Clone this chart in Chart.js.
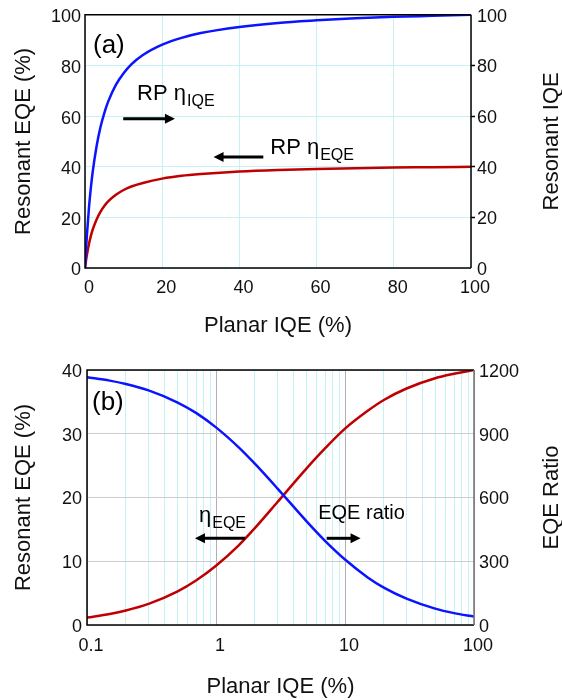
<!DOCTYPE html>
<html>
<head>
<meta charset="utf-8">
<script src="https://cdn.jsdelivr.net/npm/chart.js@4.4.1/dist/chart.umd.min.js"></script>
<style>
  html, body { margin: 0; padding: 0; background: #fff; }
  .panel { position: absolute; left: 0; width: 562px; }
  #top { top: 0; height: 345px; }
  #bottom { top: 345px; height: 355px; }
</style>
</head>
<body>
<div class="panel" id="top"><canvas id="chartA"></canvas></div>
<div class="panel" id="bottom"><canvas id="chartB"></canvas></div>
<script>
const FONT = "'Liberation Sans', Arial, sans-serif";
const BLUE = "#0a14ff";
const RED = "#c00000";
const CYAN = "#c6f2f6";
const GRAY = "#b0b0b0";

// (a) linear planar IQE axis
const planarIqeA = [0, 0.25, 0.5, 1, 1.5, 2, 3, 4, 5, 6, 8, 10, 12, 15, 20, 25, 30, 40, 50, 60, 70, 80, 90, 100];
const resonantIqeA = [0, 7.0, 13.1, 23.3, 31.4, 38.0, 48.1, 55.6, 61.2, 65.7, 72.3, 76.9, 80.4, 84.1, 88.2, 90.9, 92.8, 95.2, 96.8, 97.8, 98.6, 99.2, 99.6, 100];
const resonantEqeA = [0, 2.8, 5.2, 9.3, 12.6, 15.2, 19.2, 22.2, 24.5, 26.3, 28.9, 30.8, 32.2, 33.6, 35.3, 36.4, 37.1, 38.1, 38.7, 39.1, 39.4, 39.7, 39.8, 40.0];

// (b) log planar IQE axis
const planarIqeB = [0.1, 0.15, 0.2, 0.3, 0.5, 0.7, 1, 1.5, 2, 3, 5, 7, 10, 15, 20, 30, 50, 70, 100];
const resonantEqeB = [1.17, 1.73, 2.27, 3.31, 5.24, 6.98, 9.3, 12.5, 15.2, 19.3, 24.5, 27.7, 30.8, 33.6, 35.3, 37.1, 38.7, 39.4, 40.0];
const eqeRatioB = [1166, 1150, 1134, 1104, 1048, 998, 930, 836, 759, 642, 490, 396, 308, 224, 176, 124, 77, 56, 40];

// log axis tick positions; only decades get a label
const logTicksB = [0.1, 0.2, 0.3, 0.4, 0.5, 0.6, 0.7, 0.8, 0.9, 1, 2, 3, 4, 5, 6, 7, 8, 9, 10, 20, 30, 40, 50, 60, 70, 80, 90, 100];
const logLabelsB = [0.1, 1, 10, 100];

Chart.defaults.font.family = FONT;
Chart.defaults.font.size = 18;
Chart.defaults.color = "#111";

const toPoints = (xs, ys) => xs.map((x, i) => ({ x, y: ys[i] }));

// text, arrows, axis titles and the box around the plot
const decorations = {
  id: "decorations",
  afterDraw(chart, args, opts) {
    const { ctx, chartArea: area, scales } = chart;
    const x = scales.x, y = scales.y;
    ctx.save();

    // frame
    ctx.lineWidth = 1.5;
    ctx.strokeStyle = "#000";
    ctx.beginPath();
    ctx.moveTo(area.right, area.top);
    ctx.lineTo(area.left, area.top);
    ctx.lineTo(area.left, area.bottom);
    ctx.lineTo(area.right, area.bottom);
    ctx.stroke();
    ctx.strokeStyle = opts.rightColor || "#000";
    ctx.beginPath();
    ctx.moveTo(area.right, area.top);
    ctx.lineTo(area.right, area.bottom);
    ctx.stroke();

    // panel tag
    ctx.fillStyle = "#000";
    ctx.font = `26px ${FONT}`;
    ctx.textAlign = "left";
    ctx.textBaseline = "alphabetic";
    ctx.fillText(opts.tag.text, area.left + opts.tag.dx, area.top + opts.tag.dy);

    // labels with subscripts
    (opts.labels || []).forEach((l) => {
      let px = x.getPixelForValue(l.x);
      const py = y.getPixelForValue(l.y);
      ctx.font = `${l.size}px ${FONT}`;
      ctx.fillText(l.text, px, py);
      if (l.sub) {
        px += ctx.measureText(l.text).width + 1;
        ctx.font = `16px ${FONT}`;
        ctx.fillText(l.sub, px, py + 6);
      }
    });

    // arrows
    ctx.lineWidth = 3;
    (opts.arrows || []).forEach((a) => {
      const x0 = x.getPixelForValue(a.from);
      const x1 = x.getPixelForValue(a.to);
      const py = y.getPixelForValue(a.y);
      const dir = Math.sign(x1 - x0);
      ctx.strokeStyle = "#000";
      ctx.beginPath();
      ctx.moveTo(x0, py);
      ctx.lineTo(x1 - dir * 8, py);
      ctx.stroke();
      ctx.beginPath();
      ctx.moveTo(x1, py);
      ctx.lineTo(x1 - dir * 10, py - 5);
      ctx.lineTo(x1 - dir * 10, py + 5);
      ctx.closePath();
      ctx.fill();
    });

    // axis titles
    ctx.font = `22px ${FONT}`;
    ctx.fillStyle = "#111";
    ctx.textAlign = "center";
    ctx.textBaseline = "middle";
    const midY = (area.top + area.bottom) / 2;
    const vertical = (text, cx) => {
      ctx.save();
      ctx.translate(cx, midY);
      ctx.rotate(-Math.PI / 2);
      ctx.fillText(text, 0, 0);
      ctx.restore();
    };
    vertical(opts.titles.left, 24);
    vertical(opts.titles.right, 552);
    ctx.fillText(opts.titles.bottom, (area.left + area.right) / 2, opts.titles.bottomY);

    ctx.restore();
  },
};

const isEdge = (scale, v) => v === scale.min || v === scale.max;

new Chart(document.getElementById("chartA"), {
  type: "line",
  data: {
    datasets: [
      {
        label: "RP IQE",
        data: toPoints(planarIqeA, resonantIqeA),
        yAxisID: "y2",
        borderColor: BLUE,
        borderWidth: 2.5,
        pointRadius: 0,
        cubicInterpolationMode: "monotone",
      },
      {
        label: "RP EQE",
        data: toPoints(planarIqeA, resonantEqeA),
        yAxisID: "y",
        borderColor: RED,
        borderWidth: 2.5,
        pointRadius: 0,
        cubicInterpolationMode: "monotone",
      },
    ],
  },
  options: {
    responsive: true,
    maintainAspectRatio: false,
    animation: false,
    layout: { padding: { top: 12, left: 0, right: 0, bottom: 0 } },
    plugins: {
      legend: { display: false },
      tooltip: { enabled: false },
      decorations: {
        tag: { text: "(a)", dx: 8, dy: 38 },
        labels: [
          { text: "RP \u03b7", sub: "IQE", x: 13.5, y: 66.4, size: 22 },
          { text: "RP \u03b7", sub: "EQE", x: 48.0, y: 45.2, size: 22 },
        ],
        arrows: [
          { from: 9.9, to: 23.3, y: 58.9 },
          { from: 46.2, to: 33.3, y: 43.8 },
        ],
        titles: { left: "Resonant EQE (%)", right: "Resonant IQE", bottom: "Planar IQE (%)", bottomY: 326 },
      },
    },
    scales: {
      x: {
        type: "linear",
        min: 0,
        max: 100,
        grid: { color: CYAN, drawTicks: false },
        border: { display: false },
        ticks: { stepSize: 20, padding: 9, labelOffset: 4, maxRotation: 0 },
        afterFit: (s) => { s.height = 77; },
      },
      y: {
        position: "left",
        min: 0,
        max: 100,
        grid: { color: CYAN, drawTicks: false },
        border: { display: false },
        ticks: { stepSize: 20, padding: 4, labelOffset: 2.5 },
        afterFit: (s) => { s.width = 85; },
      },
      y2: {
        position: "right",
        min: 0,
        max: 100,
        grid: {
          drawOnChartArea: false,
          drawTicks: true,
          tickLength: 4,
          tickWidth: 1.5,
          tickColor: (c) => (c.tick && isEdge(c.scale, c.tick.value) ? "rgba(0,0,0,0)" : "#000"),
        },
        border: { display: false },
        ticks: { stepSize: 20, padding: 2, labelOffset: 2 },
        afterFit: (s) => { s.width = 91; },
      },
    },
  },
  plugins: [decorations],
});

new Chart(document.getElementById("chartB"), {
  type: "line",
  data: {
    datasets: [
      {
        label: "EQE ratio",
        data: toPoints(planarIqeB, eqeRatioB),
        yAxisID: "y2",
        borderColor: BLUE,
        borderWidth: 2.5,
        pointRadius: 0,
        cubicInterpolationMode: "monotone",
      },
      {
        label: "Resonant EQE",
        data: toPoints(planarIqeB, resonantEqeB),
        yAxisID: "y",
        borderColor: RED,
        borderWidth: 2.5,
        pointRadius: 0,
        cubicInterpolationMode: "monotone",
      },
    ],
  },
  options: {
    responsive: true,
    maintainAspectRatio: false,
    animation: false,
    layout: { padding: { top: 25, left: 0, right: 0, bottom: 0 } },
    plugins: {
      legend: { display: false },
      tooltip: { enabled: false },
      decorations: {
        rightColor: "#707070",
        tag: { text: "(b)", dx: 5, dy: 40 },
        labels: [
          { text: "\u03b7", sub: "EQE", x: 0.738, y: 16.2, size: 22 },
          { text: "EQE ratio", x: 6.2, y: 16.7, size: 20 },
        ],
        arrows: [
          { from: 1.68, to: 0.687, y: 13.6 },
          { from: 7.21, to: 13.2, y: 13.6 },
        ],
        titles: { left: "Resonant EQE (%)", right: "EQE Ratio", bottom: "Planar IQE (%)", bottomY: 342 },
      },
    },
    scales: {
      x: {
        type: "logarithmic",
        min: 0.1,
        max: 100,
        afterBuildTicks: (s) => { s.ticks = logTicksB.map((v) => ({ value: v })); },
        grid: {
          drawTicks: false,
          color: (c) => (c.tick && logLabelsB.includes(c.tick.value) ? GRAY : CYAN),
        },
        border: { display: false },
        ticks: {
          autoSkip: false,
          maxRotation: 0,
          padding: 10,
          labelOffset: 4,
          callback: (v) => (logLabelsB.includes(v) ? String(v) : ""),
        },
        afterFit: (s) => { s.height = 75; },
      },
      y: {
        position: "left",
        min: 0,
        max: 40,
        grid: { color: "#cccccc", drawTicks: false },
        border: { display: false },
        ticks: { stepSize: 10, padding: 5, labelOffset: 2 },
        afterFit: (s) => { s.width = 87; },
      },
      y2: {
        position: "right",
        min: 0,
        max: 1200,
        grid: { drawOnChartArea: false, drawTicks: false },
        border: { display: false },
        ticks: { stepSize: 300, padding: 5, labelOffset: 2, callback: (v) => String(v) },
        afterFit: (s) => { s.width = 88; },
      },
    },
  },
  plugins: [decorations],
});
</script>
</body>
</html>
